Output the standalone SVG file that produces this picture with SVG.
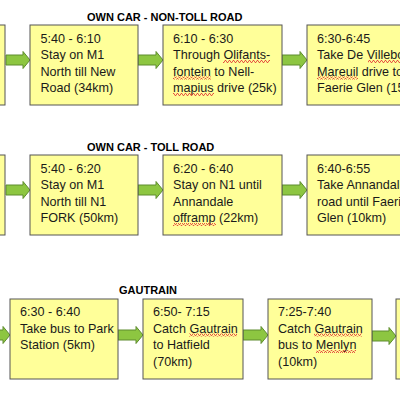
<svg xmlns="http://www.w3.org/2000/svg" width="400" height="400" viewBox="0 0 400 400">
<defs>
<style>
.box{fill:#FFFF99;stroke:#555;stroke-width:1}
.t{font-family:"Liberation Sans",Arial,sans-serif;font-size:12.6px;fill:#1a1a1a}
.h{font-family:"Liberation Sans",Arial,sans-serif;font-size:11px;font-weight:bold;fill:#000}
.arr{fill:#8DC641;stroke:#5E8C2E;stroke-width:1}
.sq{fill:url(#squig)}
</style>
<pattern id="squig" width="4" height="3" patternUnits="userSpaceOnUse">
<path d="M0,2.5 L1,0.5 L2,0.5 L3,2.5 L4,2.5" fill="none" stroke="#E03030" stroke-width="0.8"/>
</pattern>
</defs>
<rect width="400" height="400" fill="#fff"/>

<text class="h" x="87" y="21">OWN CAR - NON-TOLL ROAD</text>
<text class="h" x="87" y="151">OWN CAR - TOLL ROAD</text>
<text class="h" x="119" y="294">GAUTRAIN</text>

<g id="connectors">
<path class="arr" d="M6,55 H23 V51.5 L30,60 L23,68.5 V65 H6 Z"/>
<path class="arr" d="M138,55 H156 V51.5 L163,60 L156,68.5 V65 H138 Z"/>
<path class="arr" d="M282,55 H300 V51.5 L307,60 L300,68.5 V65 H282 Z"/>
<path class="arr" d="M6,185 H23 V181.5 L30,190 L23,198.5 V195 H6 Z"/>
<path class="arr" d="M138,185 H156 V181.5 L163,190 L156,198.5 V195 H138 Z"/>
<path class="arr" d="M282,185 H300 V181.5 L307,190 L300,198.5 V195 H282 Z"/>
<path class="arr" d="M-5,330 H3 V326.5 L10,335 L3,343.5 V340 H-5 Z"/>
<path class="arr" d="M118,330 H136 V326.5 L143,335 L136,343.5 V340 H118 Z"/>
<path class="arr" d="M243,330 H261 V326.5 L268,335 L261,343.5 V340 H243 Z"/>
<path class="arr" d="M372,331 H389 V327.5 L396,336 L389,344.5 V341 H372 Z"/>
</g>

<g id="n1a"><rect class="box" x="-20" y="25" width="25" height="80"/></g>
<g id="n1b"><rect class="box" x="30" y="25" width="108" height="80"/>
<text class="t" x="40.5" y="42.5">5:40 - 6:10</text>
<text class="t" x="40.5" y="59">Stay on M1</text>
<text class="t" x="40.5" y="75.5">North till New</text>
<text class="t" x="40.5" y="92">Road (34km)</text></g>
<g id="n1c"><rect class="box" x="163" y="25" width="119" height="80"/>
<text class="t" x="173" y="42.5">6:10 - 6:30</text>
<text class="t" x="173" y="59">Through Olifants-</text>
<text class="t" x="173" y="75.5">fontein to Nell-</text>
<text class="t" x="173" y="92">mapius drive (25k)</text>
<rect class="sq" x="223" y="60" width="47" height="3"/>
<rect class="sq" x="173" y="76.5" width="38" height="3"/>
<rect class="sq" x="173" y="93" width="41" height="3"/></g>
<g id="n1d"><rect class="box" x="307" y="25" width="120" height="80"/>
<text class="t" x="317" y="42.5">6:30-6:45</text>
<text class="t" x="317" y="59">Take De Villebois</text>
<text class="t" x="317" y="75.5">Mareuil drive to</text>
<text class="t" x="317" y="92">Faerie Glen (15km)</text>
<rect class="sq" x="368" y="60" width="40" height="3"/>
<rect class="sq" x="317" y="76.5" width="41" height="3"/></g>

<g id="n2a"><rect class="box" x="-20" y="155" width="25" height="80"/></g>
<g id="n2b"><rect class="box" x="30" y="155" width="108" height="80"/>
<text class="t" x="40.5" y="172.5">5:40 - 6:20</text>
<text class="t" x="40.5" y="189">Stay on M1</text>
<text class="t" x="40.5" y="205.5">North till N1</text>
<text class="t" x="40.5" y="222">FORK (50km)</text></g>
<g id="n2c"><rect class="box" x="163" y="155" width="119" height="80"/>
<text class="t" x="173" y="172.5">6:20 - 6:40</text>
<text class="t" x="173" y="189">Stay on N1 until</text>
<text class="t" x="173" y="205.5">Annandale</text>
<text class="t" x="173" y="222">offramp (22km)</text>
<rect class="sq" x="173" y="223" width="43" height="3"/></g>
<g id="n2d"><rect class="box" x="307" y="155" width="120" height="80"/>
<text class="t" x="317" y="172.5">6:40-6:55</text>
<text class="t" x="317" y="189">Take Annandale</text>
<text class="t" x="317" y="205.5">road until Faerie</text>
<text class="t" x="317" y="222">Glen (10km)</text></g>

<g id="n3a"><rect class="box" x="10" y="299" width="108" height="80"/>
<text class="t" x="20" y="316">6:30 - 6:40</text>
<text class="t" x="20" y="332.5">Take bus to Park</text>
<text class="t" x="20" y="349">Station (5km)</text></g>
<g id="n3b"><rect class="box" x="143" y="299" width="100" height="80"/>
<text class="t" x="153" y="316">6:50- 7:15</text>
<text class="t" x="153" y="332.5">Catch Gautrain</text>
<text class="t" x="153" y="349">to Hatfield</text>
<text class="t" x="153" y="365.5">(70km)</text>
<rect class="sq" x="189" y="333.5" width="48" height="3"/></g>
<g id="n3c"><rect class="box" x="268" y="299" width="104" height="80"/>
<text class="t" x="278" y="316">7:25-7:40</text>
<text class="t" x="278" y="332.5">Catch Gautrain</text>
<text class="t" x="278" y="349">bus to Menlyn</text>
<text class="t" x="278" y="365.5">(10km)</text>
<rect class="sq" x="314" y="333.5" width="48" height="3"/>
<rect class="sq" x="316" y="350" width="40" height="3"/></g>
<g id="n3d"><rect class="box" x="396" y="299" width="30" height="80"/></g>
</svg>
